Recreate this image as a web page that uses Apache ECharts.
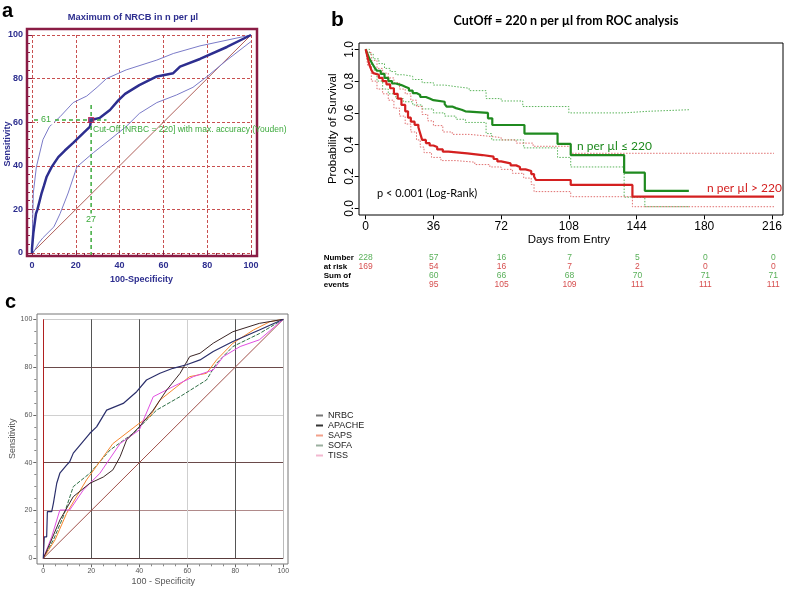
<!DOCTYPE html>
<html><head><meta charset="utf-8">
<script src="https://cdn.jsdelivr.net/npm/echarts@6/dist/echarts.min.js"></script>
<style>html,body{margin:0;padding:0;background:#fff}#c{width:785px;height:593px}</style>
</head><body><div id="c"></div>
<script>
// ---------- Panel a: ROC of NRBC ----------
const rocMainX = [0,0,0.6,1.8,2.5,4.4,5.5,6.7,9,12,15,18.8,23.4,26.5,27,31,35.6,39.4,42.5,49,57,64.5,67.6,76.7,89,100];
const rocMainY = [0,2,9,18,20,27.5,31,35,39.5,44,47,50.5,55,58,61,62,65.6,70,73,77,81,82.5,85.5,89,94.5,100];
const rocUpX = [0,0.3,0.6,2,5,8,12.8,18.8,25,29.7,34,43,57,64.5,76.7,100];
const rocUpY = [0,15,27.5,39.5,52,58,62.5,69,72,76,80,84,88.5,91.5,95,100];
const rocLoX = [0.5,3,5,10,12.8,16.5,20.5,28,35.6,43,49,57,66,73.5,80,89,100];
const rocLoY = [0,4.5,7,12,18,27.5,39.5,46,52,58,64,69,72.5,76,81,88.5,97];
const cutX = 27, cutY = 61;
// ---------- Panel b: Kaplan-Meier ----------
const lowDays = [0,1,2,3,4,5,6,8,10,12,14,16,19,21,23,25,27,29,32,34,36,42,43,46,48,51,53,65,67.3,84.4,102,109,137.4,148.4,171.8];
const lowSurv = [1,0.97,0.94,0.92,0.9,0.88,0.865,0.845,0.82,0.8,0.785,0.775,0.765,0.755,0.74,0.725,0.713,0.7,0.69,0.68,0.67,0.655,0.64,0.63,0.62,0.61,0.6,0.566,0.524,0.47,0.405,0.335,0.224,0.11,0.11];
const lowUpDays = [0,2,4,7,10,13,16,20,25,30,36,42,48,55,64,72,83.5,108,137,150,172];
const lowUpSurv = [1,0.97,0.94,0.91,0.88,0.86,0.84,0.83,0.81,0.79,0.775,0.765,0.755,0.74,0.69,0.675,0.64,0.6,0.61,0.62,0.62];
const lowLoDays = [0,1,3,6,9,12,16,20,25,30,36,42,48,53,64,67,84,102,109,137.4,148.4,172];
const lowLoSurv = [1,0.93,0.87,0.8,0.75,0.72,0.69,0.67,0.65,0.625,0.6,0.58,0.56,0.54,0.47,0.43,0.38,0.32,0.26,0.07,0.01,0.01];
const highDays = [0,1,2,3,4,5,7,9,11,13,15,17,19,21,22.5,24,26,28,29,30,32,34,36,38,41,44,54,62,68,70,72,77,80,82,85,88,89.5,90.5,109,141.8,219.5];
const highSurv = [1,0.95,0.9,0.87,0.85,0.84,0.82,0.8,0.78,0.755,0.72,0.69,0.65,0.61,0.57,0.545,0.525,0.51,0.47,0.43,0.41,0.395,0.385,0.37,0.356,0.346,0.335,0.325,0.31,0.295,0.283,0.27,0.26,0.245,0.235,0.215,0.2,0.178,0.147,0.073,0.073];
const highUpDays = [0,1,3,6,9,12,15,18,21,24,27,30,33,36,41,46,55,64,72,80,89,109,219.5];
const highUpSurv = [1,0.98,0.93,0.88,0.85,0.82,0.79,0.75,0.72,0.68,0.64,0.59,0.55,0.52,0.48,0.465,0.455,0.445,0.43,0.41,0.39,0.346,0.346];
const highLoDays = [0,1,3,6,9,12,15,18,21,24,27,29,31,35,40,48,58,66,72,78,84,88,89.5,109,141.8,219.5];
const highLoSurv = [1,0.9,0.8,0.75,0.72,0.68,0.63,0.58,0.53,0.48,0.43,0.385,0.35,0.32,0.3,0.29,0.275,0.26,0.245,0.22,0.19,0.15,0.105,0.073,0.01,0.01];
const dayTicks = [0,36,72,108,144,180,216];
const riskRows = ['Number','at risk','Sum of','events'];
const atRiskLow = [228,57,16,7,5,0,0];
const atRiskHigh = [169,54,16,7,2,0,0];
const eventsLow = [null,60,66,68,70,71,71];
const eventsHigh = [null,95,105,109,111,111,111];
// ---------- Panel c: ROC comparison ----------
const nrbcX = [0,0.4,1.4,1.7,3.5,4.2,5.6,6.9,9.7,11,12.5,15.3,19.4,22.2,26.4,33.3,38.9,43,48.6,54,59.7,65.3,70.8,79,90,100];
const nrbcY = [0,9,9,19.5,19.5,23,31.4,35.6,39,40.4,44,47.4,52.3,55,62,64.8,69.7,74.6,77.4,79.5,81,83,86.5,90.7,95.5,100];
const apacheX = [0,2.8,6.9,12.5,19.4,25,29,32,34.7,40,45.8,51.4,57,61,65.3,70.8,79,90,100];
const apacheY = [0,6.3,16,25.8,31.4,34,37,42.5,49.5,55,62,70.4,77.4,84.4,85.8,90,94.8,98.3,100];
const sapsX = [0,4.9,9.7,18,29,40,44.4,48.6,55.6,61,68,72.2,79,87.5,94.4,100];
const sapsY = [0,7.7,18.8,32.8,48,56.5,59.3,66.2,71.8,76,77.4,83,90,95.5,99,100];
const sofaX = [0,4.2,8.3,12.5,19.4,27.8,37.5,47.2,56.9,68,72.2,79,90,100];
const sofaY = [0,7.7,17.4,30,35.6,45.3,52.3,62,67.6,74.6,81.6,88.6,94,100];
const tissX = [0,3.5,6.9,11,16.7,23.6,32,40,45.8,54,62.5,70.8,75,82,90,100];
const tissY = [0,9,20.2,20.2,28.6,35.6,48,53.7,67.6,71.8,76,78.8,84.4,88.6,91.4,100];
const diagX = [0,100];
const diagY = [0,100];

const zip = (xs, ys) => xs.map((x, i) => [x, ys[i]]);
const SANS = "'Liberation Sans', Arial, sans-serif";
const CAL = "Lato, 'Liberation Sans', sans-serif";
const BLUE = '#2D2E8F', GREEN_A = '#3DAA3D';
const GREEN = '#1F8A1F', RED = '#D42020';

const chart = echarts.init(document.getElementById('c'), null, {renderer: 'canvas'});

function riskSeries(vals, row, color) {
  return {
    type: 'scatter', xAxisIndex: 2, yAxisIndex: 2, silent: true,
    symbolSize: 1, itemStyle: {color: 'rgba(0,0,0,0)'},
    data: dayTicks.map((d, i) => [d, row, vals[i]]).filter(p => p[2] !== null),
    label: {show: true, position: 'inside', formatter: p => String(p.value[2]),
            color: color, fontSize: 8.5, fontFamily: SANS}
  };
}

const option = {
  animation: false,
  backgroundColor: '#fff',
  grid: [
    {left: 32, top: 35, width: 219, height: 218},
    {left: 365.7, top: 49.3, width: 407.6, height: 159},
    {left: 365.7, top: 258, width: 407.6, height: 27},
    {left: 43.3, top: 319.3, width: 240, height: 239}
  ],
  xAxis: [
    {gridIndex: 0, type: 'value', min: 0, max: 100, interval: 20, offset: 3,
     axisLine: {show: false, onZero: false},
     axisTick: {show: true, inside: true, length: 5, lineStyle: {color: '#8A1C45', width: 1}},
     minorTick: {show: true, splitNumber: 5, length: 3, lineStyle: {color: '#8A1C45'}},
     axisLabel: {color: BLUE, fontWeight: 'bold', fontSize: 9, fontFamily: SANS, margin: 5},
     splitLine: {show: true, lineStyle: {color: '#C85050', type: [3, 2], width: 1}},
     name: '100-Specificity', nameLocation: 'middle', nameGap: 19, nameMoveOverlap: false,
     nameTextStyle: {color: BLUE, fontWeight: 'bold', fontSize: 9, fontFamily: SANS}},
    {gridIndex: 1, type: 'value', min: 0, max: 216, interval: 36, offset: 7,
     axisLine: {show: false, onZero: false},
     axisTick: {show: true, inside: false, length: 4, lineStyle: {color: '#000'}},
     axisLabel: {color: '#000', fontSize: 12, fontFamily: SANS, margin: 5},
     splitLine: {show: false},
     name: 'Days from Entry', nameLocation: 'middle', nameGap: 19, nameMoveOverlap: false,
     nameTextStyle: {color: '#000', fontSize: 11.5, fontFamily: SANS}},
    {gridIndex: 2, type: 'value', min: 0, max: 216, show: false},
    {gridIndex: 3, type: 'value', min: 0, max: 100, interval: 20, offset: 6,
     axisLine: {show: false, onZero: false},
     axisTick: {show: true, inside: false, length: 3, lineStyle: {color: '#666'}},
     minorTick: {show: true, splitNumber: 4, length: 2, lineStyle: {color: '#888'}},
     axisLabel: {color: '#555', fontSize: 7, fontFamily: SANS, margin: 3},
     splitLine: {show: true, lineStyle: {color: ['#B02020', '#555', '#555', '#cfcfcf', '#555', '#bbbbbb'], width: 1}},
     name: '100 - Specificity', nameLocation: 'middle', nameGap: 13, nameMoveOverlap: false,
     nameTextStyle: {color: '#555', fontSize: 9, fontFamily: SANS}}
  ],
  yAxis: [
    {gridIndex: 0, type: 'value', min: 0, max: 100, interval: 20, offset: 5,
     axisLine: {show: false, onZero: false},
     axisTick: {show: true, inside: true, length: 5, lineStyle: {color: '#8A1C45', width: 1}},
     minorTick: {show: true, splitNumber: 5, length: 3, lineStyle: {color: '#8A1C45'}},
     axisLabel: {color: BLUE, fontWeight: 'bold', fontSize: 9, fontFamily: SANS, margin: 4},
     splitLine: {show: true, lineStyle: {color: '#C85050', type: [3, 2], width: 1}},
     name: 'Sensitivity', nameLocation: 'middle', nameGap: 15, nameMoveOverlap: false,
     nameTextStyle: {color: BLUE, fontWeight: 'bold', fontSize: 9, fontFamily: SANS}},
    {gridIndex: 1, type: 'value', min: 0, max: 1, interval: 0.2, offset: 7,
     axisLine: {show: false, onZero: false},
     axisTick: {show: true, inside: false, length: 4, lineStyle: {color: '#000'}},
     axisLabel: {color: '#000', fontSize: 12, fontFamily: SANS, margin: 3, rotate: 90,
                 formatter: v => v.toFixed(1)},
     splitLine: {show: false},
     name: 'Probability of Survival', nameLocation: 'middle', nameGap: 20, nameMoveOverlap: false,
     nameTextStyle: {color: '#000', fontSize: 11.5, fontFamily: SANS}},
    {gridIndex: 2, type: 'category', data: riskRows, inverse: true, boundaryGap: false,
     axisLine: {show: false}, axisTick: {show: false}, splitLine: {show: false},
     axisLabel: {show: true, interval: 0, align: 'left', margin: 42, color: '#000', fontSize: 8,
                 fontWeight: 'bold', fontFamily: SANS}},
    {gridIndex: 3, type: 'value', min: 0, max: 100, interval: 20, offset: 7,
     axisLine: {show: false, onZero: false},
     axisTick: {show: true, inside: false, length: 3, lineStyle: {color: '#666'}},
     minorTick: {show: true, splitNumber: 4, length: 2, lineStyle: {color: '#888'}},
     axisLabel: {color: '#555', fontSize: 7, fontFamily: SANS, margin: 4},
     splitLine: {show: true, lineStyle: {color: ['#5a3c3c', '#b08a8a', '#6a4a4a', '#d0d0d0', '#6a4a4a', '#cccccc'], width: 1}},
     name: 'Sensitivity', nameLocation: 'middle', nameGap: 19, nameMoveOverlap: false,
     nameTextStyle: {color: '#555', fontSize: 9, fontFamily: SANS}}
  ],
  legend: {
    orient: 'vertical', left: 311, top: 406, itemWidth: 7, itemHeight: 2, itemGap: 1,
    icon: 'rect', textStyle: {fontSize: 9, color: '#222', fontFamily: SANS, padding: [0, 0, 0, 0]},
    data: [
      {name: 'NRBC', itemStyle: {color: '#777'}},
      {name: 'APACHE', itemStyle: {color: '#333'}},
      {name: 'SAPS', itemStyle: {color: '#F2A08A'}},
      {name: 'SOFA', itemStyle: {color: '#9AAF9F'}},
      {name: 'TISS', itemStyle: {color: '#F2B8D0'}}
    ]
  },
  series: [
    // Panel a
    {type: 'line', xAxisIndex: 0, yAxisIndex: 0, data: zip(diagX, diagY), symbol: 'none',
     lineStyle: {color: '#B0605A', width: 1}},
    {type: 'line', xAxisIndex: 0, yAxisIndex: 0, data: zip(rocUpX, rocUpY), symbol: 'none',
     lineStyle: {color: '#7B7BC8', width: 1}},
    {type: 'line', xAxisIndex: 0, yAxisIndex: 0, data: zip(rocLoX, rocLoY), symbol: 'none',
     lineStyle: {color: '#7B7BC8', width: 1}},
    {type: 'line', xAxisIndex: 0, yAxisIndex: 0, data: zip(rocMainX, rocMainY), symbol: 'none',
     lineStyle: {color: BLUE, width: 2.5}},
    {type: 'line', xAxisIndex: 0, yAxisIndex: 0, clip: false, symbol: 'none',
     data: [[-2.3, cutY], [cutX + 7, cutY]],
     lineStyle: {color: GREEN_A, width: 1.5, type: [4, 3]}},
    {type: 'line', xAxisIndex: 0, yAxisIndex: 0, clip: false, symbol: 'none',
     data: [[cutX, -1.4], [cutX, cutY + 7]],
     lineStyle: {color: GREEN_A, width: 1.5, type: [4, 3]}},
    {type: 'scatter', xAxisIndex: 0, yAxisIndex: 0, data: [[cutX, cutY]], symbol: 'rect', symbolSize: 5,
     itemStyle: {color: '#3a2a8a', borderColor: '#C02050', borderWidth: 1.2}, z: 5},
    // Panel b
    {type: 'line', xAxisIndex: 1, yAxisIndex: 1, step: 'end', symbol: 'none', clip: false,
     data: zip(lowUpDays, lowUpSurv), lineStyle: {color: '#5BB45B', width: 1, type: [1.5, 1.5]}},
    {type: 'line', xAxisIndex: 1, yAxisIndex: 1, step: 'end', symbol: 'none', clip: false,
     data: zip(lowLoDays, lowLoSurv), lineStyle: {color: '#5BB45B', width: 1, type: [1.5, 1.5]}},
    {type: 'line', xAxisIndex: 1, yAxisIndex: 1, step: 'end', symbol: 'none', clip: false,
     data: zip(highUpDays, highUpSurv), lineStyle: {color: '#E07070', width: 1, type: [1.5, 1.5]}},
    {type: 'line', xAxisIndex: 1, yAxisIndex: 1, step: 'end', symbol: 'none', clip: false,
     data: zip(highLoDays, highLoSurv), lineStyle: {color: '#E07070', width: 1, type: [1.5, 1.5]}},
    {type: 'line', xAxisIndex: 1, yAxisIndex: 1, step: 'end', symbol: 'none', clip: false,
     data: zip(lowDays, lowSurv), lineStyle: {color: GREEN, width: 2.2}},
    {type: 'line', xAxisIndex: 1, yAxisIndex: 1, step: 'end', symbol: 'none', clip: false,
     data: zip(highDays, highSurv), lineStyle: {color: RED, width: 2.2}},
    riskSeries(atRiskLow, 0, '#2E9B2E'),
    riskSeries(atRiskHigh, 1, '#CC2222'),
    riskSeries(eventsLow, 2, '#2E9B2E'),
    riskSeries(eventsHigh, 3, '#CC2222'),
    // Panel c
    {type: 'line', xAxisIndex: 3, yAxisIndex: 3, data: zip(diagX, diagY), symbol: 'none',
     lineStyle: {color: '#A0504A', width: 1}},
    {name: 'SOFA', type: 'line', xAxisIndex: 3, yAxisIndex: 3, data: zip(sofaX, sofaY), symbol: 'none',
     lineStyle: {color: '#2E6E45', width: 1, type: [4, 1.5]}, itemStyle: {color: '#2E6E45'}},
    {name: 'SAPS', type: 'line', xAxisIndex: 3, yAxisIndex: 3, data: zip(sapsX, sapsY), symbol: 'none',
     lineStyle: {color: '#F5872F', width: 1}, itemStyle: {color: '#F5872F'}},
    {name: 'TISS', type: 'line', xAxisIndex: 3, yAxisIndex: 3, data: zip(tissX, tissY), symbol: 'none',
     lineStyle: {color: '#E04FE0', width: 1}, itemStyle: {color: '#E04FE0'}},
    {name: 'APACHE', type: 'line', xAxisIndex: 3, yAxisIndex: 3, data: zip(apacheX, apacheY), symbol: 'none',
     lineStyle: {color: '#3B2626', width: 1}, itemStyle: {color: '#3B2626'}},
    {name: 'NRBC', type: 'line', xAxisIndex: 3, yAxisIndex: 3, data: zip(nrbcX, nrbcY), symbol: 'none',
     lineStyle: {color: '#2B2F6B', width: 1.2}, itemStyle: {color: '#2B2F6B'}}
  ],
  graphic: [
    // frames
    {type: 'rect', shape: {x: 27, y: 29, width: 230, height: 227}, silent: true, z: 10,
     style: {fill: 'none', stroke: '#8A1C45', lineWidth: 2.5}},
    {type: 'rect', shape: {x: 359, y: 43, width: 424, height: 172}, silent: true, z: 10,
     style: {fill: 'none', stroke: '#000', lineWidth: 1}},
    {type: 'rect', shape: {x: 37, y: 314, width: 251, height: 250}, silent: true, z: 10,
     style: {fill: 'none', stroke: '#777', lineWidth: 1}},
    // panel letters
    {type: 'text', x: 2, y: 11, z: 20, style: {text: 'a', font: "bold 20px 'Liberation Sans'", fill: '#000', verticalAlign: 'middle'}},
    {type: 'text', x: 331, y: 20, z: 20, style: {text: 'b', font: "bold 21px 'Liberation Sans'", fill: '#000', verticalAlign: 'middle'}},
    {type: 'text', x: 5, y: 302, z: 20, style: {text: 'c', font: "bold 20px 'Liberation Sans'", fill: '#000', verticalAlign: 'middle'}},
    // titles
    {type: 'text', x: 133, y: 17, z: 20, style: {text: 'Maximum of NRCB in n per µl', font: "bold 9.3px " + SANS, fill: BLUE, align: 'center', verticalAlign: 'middle'}},
    {type: 'text', x: 566, y: 21, z: 20, style: {text: 'CutOff = 220 n per µl from ROC analysis', font: "bold 12.5px " + CAL, fill: '#000', align: 'center', verticalAlign: 'middle'}},
    // panel a annotations
    {type: 'text', x: 46, y: 120, z: 20, style: {text: '61', font: "9px " + SANS, fill: GREEN_A, align: 'center', verticalAlign: 'middle', backgroundColor: '#fff', padding: [0, 3]}},
    {type: 'text', x: 91, y: 220, z: 20, style: {text: '27', font: "9px " + SANS, fill: GREEN_A, align: 'center', verticalAlign: 'middle', backgroundColor: '#fff', padding: [2, 0]}},
    {type: 'text', x: 93, y: 130, z: 20, style: {text: 'Cut-Off [NRBC = 220] with max. accuracy (Youden)', font: "8.5px " + SANS, fill: GREEN_A, verticalAlign: 'middle'}},
    // panel b annotations
    {type: 'text', x: 577, y: 146, z: 20, style: {text: 'n per µl ≤ 220', font: "12px " + CAL, fill: GREEN, verticalAlign: 'middle'}},
    {type: 'text', x: 707, y: 188, z: 20, style: {text: 'n per µl > 220', font: "12px " + CAL, fill: RED, verticalAlign: 'middle'}},
    {type: 'text', x: 377, y: 193, z: 20, style: {text: 'p < 0.001 (Log-Rank)', font: "11px " + CAL, fill: '#000', verticalAlign: 'middle'}}
  ]
};
chart.setOption(option);
</script>
</body></html>
